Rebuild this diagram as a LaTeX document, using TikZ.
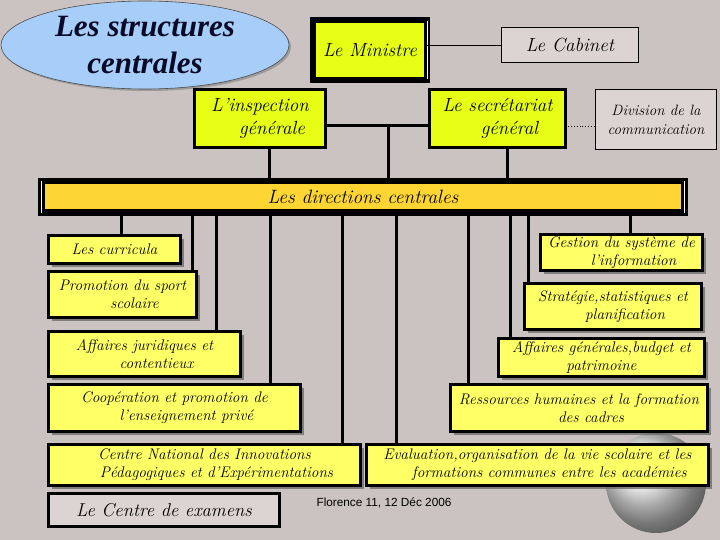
\documentclass[tikz,border=0pt]{standalone}
\usepackage{fontspec}
\newfontfamily\titlefont{Liberation Serif}
\newfontfamily\sansfont{Liberation Sans}
\usetikzlibrary{shadows,shapes.geometric,calc}
\definecolor{bgc}{RGB}{202,195,194}
\definecolor{limeY}{RGB}{230,255,20}
\definecolor{boxY}{RGB}{255,255,102}
\definecolor{barY}{RGB}{253,214,51}
\definecolor{greyB}{RGB}{220,212,210}
\definecolor{ellB}{RGB}{166,206,248}
\definecolor{titleC}{RGB}{10,10,40}
\newcommand{\ind}{\hspace*{24pt}}
\begin{document}
\begin{tikzpicture}[x=1pt,y=-1pt,
  every node/.style={inner sep=0pt,outer sep=0pt},
  topbox/.style={draw=black,line width=3pt,fill=limeY,align=center,font=\fontsize{19}{23}\selectfont\itshape},
  subbox/.style={draw=black,line width=3pt,fill=boxY,align=center,font=\fontsize{15.3}{18}\selectfont\itshape,
     drop shadow={shadow xshift=3pt,shadow yshift=-3pt,fill=black!60,opacity=0.75}},
  greybox/.style={draw=black,line width=0.8pt,fill=greyB,align=center},
  conn/.style={draw=black,line width=3pt},
  thinconn/.style={draw=black,line width=0.8pt}]
\useasboundingbox (0,0) rectangle (720,540);
\fill[bgc] (0,0) rectangle (720,540);
\shade[ball color=gray!12] (656,483) circle [radius=50];

% title ellipse
\node[ellipse,draw=black!70,line width=0.6pt,fill=ellB,minimum width=288,minimum height=88,
  drop shadow={shadow xshift=2pt,shadow yshift=-2pt,fill=black!50,opacity=0.6},
  align=center,text=titleC,font=\titlefont\fontsize{31}{37}\selectfont\bfseries\itshape] (title) at (145,45) {Les structures\\centrales};

% top level
\node[topbox,line width=6pt,minimum width=114,minimum height=60] (min) at (370,50) {Le Ministre};
\draw[white,line width=1pt] ($(min.north east)+(0,1)$) -- ($(min.south east)+(0,-1)$);
\node[greybox,minimum width=137,minimum height=35,font=\fontsize{19}{22}\selectfont\itshape] (cab) at (570,45) {Le Cabinet};
\node[topbox,minimum width=131,minimum height=58] (insp) at (260,118.5) {L’inspection\\\ind générale};
\node[topbox,minimum width=136,minimum height=58] (sec) at (497.5,118.5) {Le secrétariat\\\ind général};
\node[greybox,minimum width=121,minimum height=60,font=\fontsize{15}{19}\selectfont\itshape] (div) at (656,119.5) {Division de la\\communication};

% directions bar
\node[fill=black,minimum width=650,minimum height=38,font=\fontsize{19.3}{22}\selectfont\itshape,
  path picture={\fill[barY] ($(path picture bounding box.north west)+(7,6)$) rectangle ($(path picture bounding box.south east)+(-7,-7)$);
    \draw[white,line width=0.8pt] ($(path picture bounding box.north west)+(3.5,3)$) -- ($(path picture bounding box.south west)+(3.5,-3)$);
    \draw[white,line width=0.8pt] ($(path picture bounding box.north east)+(-3.5,3)$) -- ($(path picture bounding box.south east)+(-3.5,-3)$);}] (bar) at (363,197) {Les directions centrales};

% sub boxes left
\node[subbox,minimum width=132,minimum height=28] (curr) at (114.5,249.5) {Les curricula};
\node[subbox,minimum width=148,minimum height=46] (sport) at (122.5,294.5) {Promotion du sport\\\ind scolaire};
\node[subbox,minimum width=192,minimum height=45] (jur) at (144.5,354) {Affaires juridiques et\\\ind contentieux};
\node[subbox,minimum width=252,minimum height=47] (coop) at (174.5,408) {Coopération et promotion de\\\ind l’enseignement privé};
\node[subbox,minimum width=312,minimum height=41] (cnip) at (204.5,465) {Centre National des Innovations\\\ind Pédagogiques et d’Expérimentations};
\node[draw=black,line width=3pt,fill=greyB,minimum width=231,minimum height=33,font=\fontsize{18.6}{21}\selectfont\itshape] (exam) at (164,510) {Le Centre de examens};

% sub boxes right
\node[subbox,minimum width=162,minimum height=36] (gest) at (621.5,252.5) {Gestion du système de\\\ind l’information};
\node[subbox,minimum width=177,minimum height=46] (strat) at (613,306.5) {Stratégie,statistiques et\\\ind planification};
\node[subbox,minimum width=206,minimum height=38] (affg) at (601.5,357.5) {Affaires générales,budget et\\patrimoine};
\node[subbox,minimum width=257,minimum height=47] (rh) at (579,408) {Ressources humaines et la formation\\\ind des cadres};
\node[subbox,minimum width=342,minimum height=41] (eval) at (537.5,465) {Evaluation,organisation de la vie scolaire et les\\\ind formations communes entre les académies};

\node[font=\sansfont\fontsize{11.8}{13}\selectfont] (flor) at (384,503) {Florence 11, 12 Déc 2006};

% connectors top
\coordinate (hy) at (0,126);
\coordinate (v0) at (388,126);
\draw[thinconn] (min.east |- cab.west) -- (cab.west);
\draw[thinconn,dotted] (sec.east |- hy) -- (div.west |- hy);
\draw[conn] (insp.east |- hy) -- (sec.west |- hy);
\draw[conn] (v0) -- (v0 |- bar.north);
\coordinate (xi) at (269,0);
\coordinate (xs) at (507,0);
\draw[conn] (insp.south -| xi) -- (bar.north -| xi);
\draw[conn] (sec.south -| xs) -- (bar.north -| xs);

% connectors bottom
\coordinate (x1) at (121,0);
\coordinate (x2) at (192,0);
\coordinate (x3) at (216,0);
\coordinate (x4) at (270,0);
\coordinate (x5) at (342,0);
\coordinate (x6) at (396,0);
\coordinate (x7) at (468,0);
\coordinate (x8) at (510,0);
\coordinate (x9) at (528,0);
\coordinate (x10) at (630,0);
\draw[conn] (bar.south -| x1) -- (curr.north -| x1);
\draw[conn] (bar.south -| x2) -- (sport.north -| x2);
\draw[conn] (bar.south -| x3) -- (jur.north -| x3);
\draw[conn] (bar.south -| x4) -- (coop.north -| x4);
\draw[conn] (bar.south -| x5) -- (cnip.north -| x5);
\draw[conn] (bar.south -| x6) -- (eval.north -| x6);
\draw[conn] (bar.south -| x7) -- (rh.north -| x7);
\draw[conn] (bar.south -| x8) -- (affg.north -| x8);
\draw[conn] (bar.south -| x9) -- (strat.north -| x9);
\draw[conn] (bar.south -| x10) -- (gest.north -| x10);
\end{tikzpicture}
\end{document}
